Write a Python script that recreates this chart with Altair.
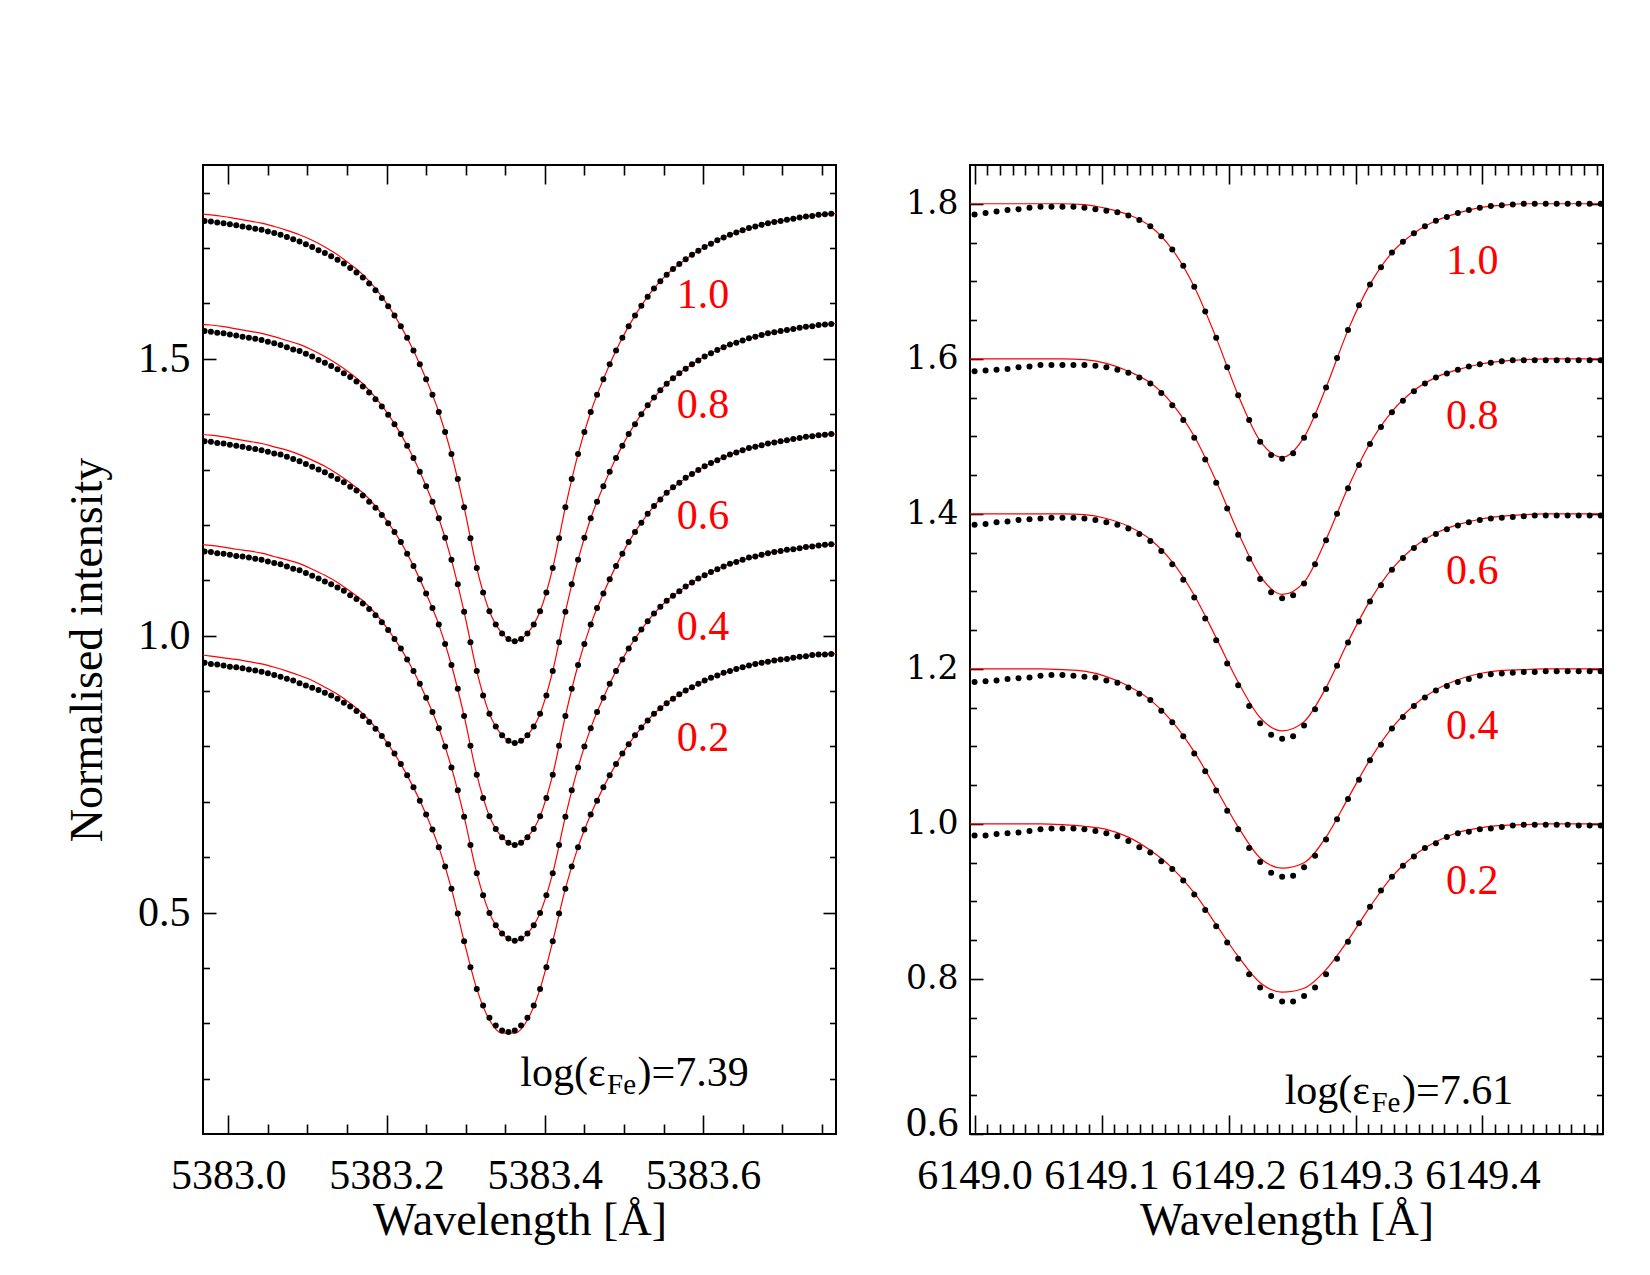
import altair as alt
import numpy as np
import pandas as pd

SERIF = "Liberation Serif"
WIDE_SERIF = "DejaVu Serif"
PANEL_W, PANEL_H = 633, 969

MU = ["1.0", "0.8", "0.6", "0.4", "0.2"]

# ---------------------------------------------------------------------------
# Fe I 5383 A.  Observed centre-to-limb profiles (dots), 8 mA sampling,
# each profile shifted up by (mu - 0.2).
# ---------------------------------------------------------------------------
wl_obs_5383 = np.round(5382.970 + 0.008 * np.arange(100), 3)

obs_5383_mu10 = [
    1.749, 1.748, 1.746, 1.745, 1.743, 1.741, 1.739, 1.737, 1.735, 1.733,
    1.730, 1.727, 1.724, 1.720, 1.716, 1.712, 1.707, 1.702, 1.696, 1.691,
    1.685, 1.679, 1.672, 1.664, 1.656, 1.647, 1.636, 1.624, 1.610, 1.595,
    1.578, 1.559, 1.538, 1.515, 1.490, 1.463, 1.435, 1.404, 1.368, 1.328,
    1.283, 1.232, 1.176, 1.122, 1.078, 1.044, 1.020, 1.004, 0.994, 0.990,
    0.994, 1.004, 1.020, 1.044, 1.078, 1.122, 1.176, 1.232, 1.283, 1.328,
    1.368, 1.404, 1.435, 1.463, 1.490, 1.515, 1.538, 1.559, 1.578, 1.596,
    1.612, 1.627, 1.640, 1.652, 1.662, 1.671, 1.680, 1.688, 1.695, 1.702,
    1.708, 1.714, 1.719, 1.724, 1.728, 1.732, 1.736, 1.739, 1.742, 1.745,
    1.747, 1.749, 1.751, 1.753, 1.755, 1.757, 1.758, 1.760, 1.761, 1.762,
]
obs_5383_mu08 = [
    1.550, 1.549, 1.547, 1.546, 1.544, 1.542, 1.540, 1.538, 1.536, 1.534,
    1.531, 1.528, 1.525, 1.521, 1.517, 1.514, 1.509, 1.504, 1.498, 1.493,
    1.487, 1.481, 1.474, 1.467, 1.459, 1.450, 1.439, 1.427, 1.414, 1.399,
    1.382, 1.364, 1.343, 1.321, 1.296, 1.270, 1.242, 1.212, 1.177, 1.137,
    1.093, 1.043, 0.988, 0.936, 0.892, 0.859, 0.836, 0.820, 0.810, 0.806,
    0.810, 0.820, 0.836, 0.859, 0.892, 0.936, 0.988, 1.043, 1.093, 1.137,
    1.177, 1.212, 1.242, 1.270, 1.296, 1.321, 1.343, 1.364, 1.382, 1.400,
    1.416, 1.430, 1.443, 1.455, 1.465, 1.474, 1.482, 1.490, 1.497, 1.504,
    1.510, 1.516, 1.521, 1.526, 1.529, 1.533, 1.537, 1.540, 1.543, 1.546,
    1.548, 1.550, 1.552, 1.554, 1.556, 1.558, 1.559, 1.561, 1.562, 1.563,
]
obs_5383_mu06 = [
    1.351, 1.350, 1.348, 1.347, 1.345, 1.343, 1.341, 1.339, 1.337, 1.335,
    1.332, 1.329, 1.327, 1.323, 1.319, 1.315, 1.310, 1.305, 1.300, 1.295,
    1.289, 1.283, 1.277, 1.269, 1.262, 1.253, 1.242, 1.231, 1.218, 1.203,
    1.187, 1.169, 1.148, 1.126, 1.102, 1.076, 1.050, 1.020, 0.985, 0.947,
    0.904, 0.855, 0.801, 0.749, 0.707, 0.674, 0.651, 0.636, 0.626, 0.622,
    0.626, 0.636, 0.651, 0.674, 0.707, 0.749, 0.801, 0.855, 0.904, 0.947,
    0.985, 1.020, 1.050, 1.076, 1.102, 1.126, 1.148, 1.169, 1.187, 1.204,
    1.220, 1.234, 1.246, 1.258, 1.268, 1.276, 1.285, 1.292, 1.299, 1.306,
    1.312, 1.317, 1.322, 1.327, 1.331, 1.335, 1.339, 1.341, 1.344, 1.347,
    1.349, 1.351, 1.353, 1.355, 1.357, 1.359, 1.360, 1.362, 1.363, 1.364,
]
obs_5383_mu04 = [
    1.152, 1.151, 1.149, 1.148, 1.146, 1.144, 1.143, 1.141, 1.139, 1.137,
    1.134, 1.131, 1.129, 1.125, 1.121, 1.118, 1.113, 1.108, 1.103, 1.098,
    1.093, 1.087, 1.081, 1.073, 1.066, 1.058, 1.048, 1.037, 1.024, 1.010,
    0.994, 0.977, 0.957, 0.936, 0.913, 0.888, 0.862, 0.833, 0.800, 0.762,
    0.721, 0.673, 0.622, 0.571, 0.531, 0.499, 0.477, 0.462, 0.453, 0.449,
    0.453, 0.462, 0.477, 0.499, 0.531, 0.571, 0.622, 0.673, 0.721, 0.762,
    0.800, 0.833, 0.862, 0.888, 0.913, 0.936, 0.957, 0.977, 0.994, 1.011,
    1.026, 1.040, 1.052, 1.063, 1.072, 1.080, 1.089, 1.096, 1.103, 1.109,
    1.115, 1.120, 1.125, 1.130, 1.133, 1.137, 1.141, 1.143, 1.146, 1.149,
    1.151, 1.153, 1.155, 1.156, 1.158, 1.160, 1.161, 1.163, 1.164, 1.165,
]
obs_5383_mu02 = [
    0.951, 0.949, 0.948, 0.946, 0.944, 0.943, 0.941, 0.939, 0.937, 0.935,
    0.932, 0.929, 0.926, 0.922, 0.919, 0.914, 0.910, 0.906, 0.902, 0.897,
    0.892, 0.886, 0.879, 0.872, 0.864, 0.855, 0.844, 0.832, 0.819, 0.804,
    0.787, 0.768, 0.748, 0.726, 0.702, 0.677, 0.650, 0.618, 0.583, 0.543,
    0.498, 0.448, 0.401, 0.362, 0.332, 0.310, 0.296, 0.287, 0.284, 0.287,
    0.296, 0.310, 0.332, 0.362, 0.401, 0.448, 0.498, 0.543, 0.583, 0.618,
    0.650, 0.677, 0.702, 0.726, 0.748, 0.768, 0.787, 0.804, 0.820, 0.834,
    0.847, 0.859, 0.869, 0.878, 0.886, 0.894, 0.901, 0.907, 0.913, 0.919,
    0.924, 0.928, 0.933, 0.936, 0.940, 0.943, 0.946, 0.949, 0.951, 0.953,
    0.955, 0.957, 0.958, 0.960, 0.962, 0.963, 0.965, 0.966, 0.966, 0.967,
]

# Synthetic best-fit profiles (red), 16 mA sampling
wl_fit_5383 = np.round(5382.962 + 0.016 * np.arange(52), 3)

fit_5383_mu10 = [
    1.762, 1.760, 1.757, 1.753, 1.749, 1.745, 1.739, 1.732, 1.724, 1.714,
    1.702, 1.688, 1.671, 1.652, 1.627, 1.596, 1.559, 1.515, 1.463, 1.404,
    1.328, 1.232, 1.122, 1.044, 1.004, 0.990, 1.004, 1.044, 1.122, 1.232,
    1.328, 1.404, 1.463, 1.515, 1.559, 1.596, 1.627, 1.652, 1.671, 1.688,
    1.702, 1.714, 1.724, 1.732, 1.739, 1.745, 1.749, 1.753, 1.757, 1.760,
    1.762, 1.764,
]
fit_5383_mu08 = [
    1.563, 1.561, 1.558, 1.554, 1.550, 1.546, 1.540, 1.533, 1.526, 1.516,
    1.504, 1.490, 1.474, 1.455, 1.430, 1.400, 1.364, 1.321, 1.270, 1.212,
    1.137, 1.043, 0.936, 0.859, 0.820, 0.806, 0.820, 0.859, 0.936, 1.043,
    1.137, 1.212, 1.270, 1.321, 1.364, 1.400, 1.430, 1.455, 1.474, 1.490,
    1.504, 1.516, 1.526, 1.533, 1.540, 1.546, 1.550, 1.554, 1.558, 1.561,
    1.563, 1.565,
]
fit_5383_mu06 = [
    1.364, 1.362, 1.359, 1.355, 1.351, 1.347, 1.341, 1.335, 1.327, 1.317,
    1.306, 1.292, 1.276, 1.258, 1.234, 1.204, 1.169, 1.126, 1.076, 1.020,
    0.947, 0.855, 0.749, 0.674, 0.636, 0.622, 0.636, 0.674, 0.749, 0.855,
    0.947, 1.020, 1.076, 1.126, 1.169, 1.204, 1.234, 1.258, 1.276, 1.292,
    1.306, 1.317, 1.327, 1.335, 1.341, 1.347, 1.351, 1.355, 1.359, 1.362,
    1.364, 1.365,
]
fit_5383_mu04 = [
    1.165, 1.163, 1.160, 1.156, 1.153, 1.149, 1.143, 1.137, 1.130, 1.120,
    1.109, 1.096, 1.080, 1.063, 1.040, 1.011, 0.977, 0.936, 0.888, 0.833,
    0.762, 0.673, 0.571, 0.499, 0.462, 0.449, 0.462, 0.499, 0.571, 0.673,
    0.762, 0.833, 0.888, 0.936, 0.977, 1.011, 1.040, 1.063, 1.080, 1.096,
    1.109, 1.120, 1.130, 1.137, 1.143, 1.149, 1.153, 1.156, 1.160, 1.163,
    1.165, 1.166,
]
fit_5383_mu02 = [
    0.966, 0.963, 0.960, 0.957, 0.953, 0.949, 0.943, 0.936, 0.928, 0.919,
    0.907, 0.894, 0.878, 0.859, 0.834, 0.804, 0.768, 0.726, 0.677, 0.618,
    0.543, 0.448, 0.362, 0.306, 0.282, 0.282, 0.306, 0.362, 0.448, 0.543,
    0.618, 0.677, 0.726, 0.768, 0.804, 0.834, 0.859, 0.878, 0.894, 0.907,
    0.919, 0.928, 0.936, 0.943, 0.949, 0.953, 0.957, 0.960, 0.963, 0.966,
    0.967, 0.968,
]

# ---------------------------------------------------------------------------
# Fe I 6149 A.  Observed profiles, 8.65 mA sampling, shifted by (mu - 0.2).
# ---------------------------------------------------------------------------
wl_obs_6149 = np.round(6149.000 + 0.00865 * np.arange(58), 5)

obs_6149_mu10 = [
    1.786, 1.788, 1.790, 1.792, 1.793, 1.795, 1.796, 1.796, 1.796, 1.796,
    1.795, 1.793, 1.791, 1.789, 1.785, 1.779, 1.771, 1.758, 1.741, 1.720,
    1.693, 1.661, 1.627, 1.589, 1.553, 1.521, 1.493, 1.476, 1.471, 1.478,
    1.498, 1.527, 1.563, 1.601, 1.637, 1.669, 1.696, 1.718, 1.737, 1.751,
    1.762, 1.771, 1.778, 1.783, 1.788, 1.792, 1.795, 1.797, 1.798, 1.799,
    1.800, 1.800, 1.800, 1.800, 1.800, 1.800, 1.800, 1.800,
]
obs_6149_mu08 = [
    1.584, 1.585, 1.586, 1.587, 1.589, 1.590, 1.592, 1.592, 1.592, 1.592,
    1.592, 1.591, 1.589, 1.586, 1.582, 1.576, 1.568, 1.556, 1.540, 1.521,
    1.498, 1.470, 1.440, 1.407, 1.373, 1.342, 1.316, 1.299, 1.291, 1.295,
    1.310, 1.335, 1.366, 1.400, 1.433, 1.463, 1.490, 1.512, 1.531, 1.546,
    1.558, 1.568, 1.576, 1.581, 1.586, 1.590, 1.593, 1.595, 1.597, 1.598,
    1.598, 1.598, 1.598, 1.598, 1.598, 1.598, 1.598, 1.598,
]
obs_6149_mu06 = [
    1.386, 1.387, 1.389, 1.390, 1.392, 1.393, 1.394, 1.395, 1.395, 1.395,
    1.394, 1.392, 1.389, 1.386, 1.381, 1.374, 1.365, 1.352, 1.335, 1.315,
    1.292, 1.265, 1.237, 1.207, 1.179, 1.152, 1.130, 1.115, 1.110, 1.113,
    1.127, 1.148, 1.174, 1.204, 1.234, 1.261, 1.287, 1.308, 1.328, 1.343,
    1.356, 1.366, 1.374, 1.380, 1.385, 1.389, 1.392, 1.394, 1.395, 1.396,
    1.397, 1.398, 1.398, 1.398, 1.398, 1.398, 1.398, 1.398,
]
obs_6149_mu04 = [
    1.183, 1.184, 1.185, 1.187, 1.188, 1.189, 1.191, 1.192, 1.192, 1.191,
    1.190, 1.189, 1.185, 1.182, 1.176, 1.168, 1.160, 1.146, 1.131, 1.113,
    1.091, 1.068, 1.043, 1.017, 0.993, 0.969, 0.951, 0.937, 0.932, 0.933,
    0.944, 0.959, 0.980, 1.006, 1.032, 1.057, 1.082, 1.102, 1.123, 1.138,
    1.152, 1.163, 1.172, 1.178, 1.183, 1.187, 1.191, 1.193, 1.194, 1.195,
    1.196, 1.196, 1.197, 1.197, 1.197, 1.197, 1.197, 1.197,
]
obs_6149_mu02 = [
    0.985, 0.985, 0.987, 0.988, 0.989, 0.991, 0.993, 0.994, 0.994, 0.994,
    0.993, 0.991, 0.988, 0.984, 0.978, 0.970, 0.963, 0.952, 0.942, 0.927,
    0.909, 0.889, 0.868, 0.847, 0.826, 0.806, 0.789, 0.778, 0.771, 0.771,
    0.778, 0.789, 0.806, 0.826, 0.848, 0.872, 0.893, 0.914, 0.932, 0.946,
    0.958, 0.969, 0.975, 0.983, 0.988, 0.990, 0.993, 0.994, 0.996, 0.998,
    0.999, 0.999, 0.999, 0.999, 0.999, 0.998, 0.998, 0.998,
]

wl_fit_6149 = np.round(6148.9827 + 0.0173 * np.arange(31), 5)

fit_6149_mu10 = [
    1.800, 1.800, 1.800, 1.800, 1.800, 1.800, 1.799, 1.794, 1.786, 1.771,
    1.741, 1.693, 1.627, 1.553, 1.494, 1.473, 1.499, 1.563, 1.637, 1.696,
    1.737, 1.762, 1.778, 1.788, 1.795, 1.798, 1.800, 1.800, 1.800, 1.800,
    1.800,
]
fit_6149_mu08 = [
    1.600, 1.600, 1.600, 1.600, 1.600, 1.600, 1.599, 1.594, 1.584, 1.569,
    1.542, 1.500, 1.442, 1.376, 1.320, 1.296, 1.312, 1.367, 1.434, 1.491,
    1.532, 1.559, 1.576, 1.586, 1.593, 1.597, 1.599, 1.600, 1.600, 1.600,
    1.600,
]
fit_6149_mu06 = [
    1.400, 1.400, 1.400, 1.400, 1.400, 1.400, 1.399, 1.394, 1.384, 1.367,
    1.338, 1.295, 1.240, 1.183, 1.137, 1.120, 1.132, 1.176, 1.235, 1.288,
    1.329, 1.357, 1.375, 1.386, 1.393, 1.397, 1.399, 1.400, 1.400, 1.400,
    1.400,
]
fit_6149_mu04 = [
    1.200, 1.200, 1.200, 1.200, 1.200, 1.199, 1.197, 1.190, 1.178, 1.160,
    1.132, 1.093, 1.045, 0.996, 0.956, 0.943, 0.950, 0.983, 1.033, 1.083,
    1.124, 1.153, 1.173, 1.186, 1.194, 1.198, 1.199, 1.200, 1.200, 1.200,
    1.200,
]
fit_6149_mu02 = [
    1.000, 1.000, 1.000, 1.000, 1.000, 0.999, 0.997, 0.993, 0.983, 0.966,
    0.943, 0.911, 0.870, 0.829, 0.795, 0.783, 0.788, 0.812, 0.850, 0.893,
    0.932, 0.959, 0.977, 0.989, 0.995, 0.998, 0.999, 1.000, 1.000, 1.000,
    1.000,
]

# Where the mu labels and the abundance notes sit (data units)
mu_label_y_5383 = [1.616, 1.416, 1.216, 1.016, 0.816]
mu_label_y_6149 = [1.7265, 1.5265, 1.3265, 1.1265, 0.9265]


def long_table(wl, series):
    frames = [pd.DataFrame({"wl": wl, "I": vals, "mu": mu})
              for mu, vals in zip(MU, series)]
    return pd.concat(frames, ignore_index=True)


def tick_axis(orient, values, size, offset):
    """Inward-pointing tick marks: the axis is moved across the plot."""
    return alt.Axis(orient=orient, values=values, tickSize=size, offset=offset,
                    labels=False, domain=False, grid=False, ticks=True,
                    tickColor="black", tickWidth=1.6, title=None)


def panel(obs, fit, xdom, ydom, x_major, x_minor, y_major, y_minor,
          mu_x, mu_y, note_x, note_y, note_value, x_axis, y_axis):
    xs = alt.Scale(domain=xdom, nice=False, zero=False)
    ys = alt.Scale(domain=ydom, nice=False, zero=False)

    def xy(ax=None, ay=None):
        return dict(x=alt.X("wl:Q", scale=xs, axis=ax),
                    y=alt.Y("I:Q", scale=ys, axis=ay))

    centre = pd.DataFrame({"wl": [sum(xdom) / 2], "I": [sum(ydom) / 2]})

    def carrier(ax, ay):
        return alt.Chart(centre).mark_point(opacity=0, size=1).encode(**xy(ax, ay))

    fit_layer = alt.Chart(fit).mark_line(
        color="#ff0000", strokeWidth=1.2, clip=True, interpolate="monotone"
    ).encode(detail="mu:N", **xy())

    obs_layer = alt.Chart(obs).mark_circle(
        size=36, color="black", opacity=1, clip=True
    ).encode(**xy())

    mu_df = pd.DataFrame({"wl": [mu_x] * len(MU), "I": mu_y, "txt": MU})
    mu_layer = alt.Chart(mu_df).mark_text(
        color="#ff0000", font=SERIF, fontSize=42, align="center", baseline="middle"
    ).encode(text="txt:N", **xy())

    note_df = pd.DataFrame({"wl": [note_x], "I": [note_y],
                            "a": ["log(\u03b5"], "b": ["Fe"], "c": [")=" + note_value]})
    note_a = alt.Chart(note_df).mark_text(
        font=SERIF, fontSize=42, color="black", align="right",
        baseline="alphabetic", dx=-16).encode(text="a:N", **xy())
    note_b = alt.Chart(note_df).mark_text(
        font=SERIF, fontSize=29, color="black", align="center",
        baseline="alphabetic", dy=8).encode(text="b:N", **xy())
    note_c = alt.Chart(note_df).mark_text(
        font=SERIF, fontSize=42, color="black", align="left",
        baseline="alphabetic", dx=16).encode(text="c:N", **xy())

    layers = [
        fit_layer, obs_layer, mu_layer, note_a, note_b, note_c,
        carrier(x_axis, y_axis),
        carrier(tick_axis("top", x_major, 19, -PANEL_H),
                tick_axis("right", y_major, 13, -PANEL_W)),
        carrier(tick_axis("top", x_minor, 10, -PANEL_H),
                tick_axis("right", y_minor, 6.5, -PANEL_W)),
        carrier(tick_axis("bottom", x_major, 19, -PANEL_H),
                tick_axis("left", y_major, 13, -PANEL_W)),
        carrier(tick_axis("bottom", x_minor, 10, -PANEL_H),
                tick_axis("left", y_minor, 6.5, -PANEL_W)),
    ]
    return alt.layer(*layers).resolve_axis(
        x="independent", y="independent"
    ).properties(width=PANEL_W, height=PANEL_H)


def x_label_axis(values):
    return alt.Axis(orient="bottom", values=values, format=".1f", ticks=False,
                    tickSize=0, domain=False, grid=False, labelOverlap=False,
                    labelFont=SERIF, labelFontSize=42, labelColor="black",
                    labelPadding=21, title="Wavelength [\u00c5]", titleFont=SERIF,
                    titleFontSize=46, titleFontWeight="normal", titleColor="black",
                    titlePadding=2)


# ---- left panel: Fe I 5383 ----
x_major_5383 = [5383.0, 5383.2, 5383.4, 5383.6]
x_minor_5383 = [5383.05, 5383.10, 5383.15, 5383.25, 5383.30, 5383.35,
                5383.45, 5383.50, 5383.55, 5383.65, 5383.70, 5383.75]
y_major_5383 = [0.5, 1.0, 1.5]
y_minor_5383 = [0.2, 0.3, 0.4, 0.6, 0.7, 0.8, 0.9, 1.1, 1.2, 1.3, 1.4,
                1.6, 1.7, 1.8]

left = panel(
    long_table(wl_obs_5383, [obs_5383_mu10, obs_5383_mu08, obs_5383_mu06,
                             obs_5383_mu04, obs_5383_mu02]),
    long_table(wl_fit_5383, [fit_5383_mu10, fit_5383_mu08, fit_5383_mu06,
                             fit_5383_mu04, fit_5383_mu02]),
    [5382.968, 5383.768], [0.1, 1.85],
    x_major_5383, x_minor_5383, y_major_5383, y_minor_5383,
    5383.6, mu_label_y_5383, 5383.497, 0.187, "7.39",
    x_label_axis(x_major_5383),
    alt.Axis(orient="left", values=y_major_5383, format=".1f", ticks=False,
             tickSize=0, domain=False, grid=False, labelOverlap=False,
             labelFont=SERIF, labelFontSize=42, labelColor="black",
             labelPadding=13, title="Normalised intensity", titleFont=SERIF,
             titleFontSize=46, titleFontWeight="normal", titleColor="black",
             titlePadding=26),
)

# ---- right panel: Fe I 6149 ----
x_major_6149 = [6149.0, 6149.1, 6149.2, 6149.3, 6149.4]
x_minor_6149 = [round(6149.0 + 0.01 * i, 2) for i in range(50) if i % 10 != 0]
y_major_6149 = [0.6, 0.8, 1.0, 1.2, 1.4, 1.6, 1.8]
y_minor_6149 = [0.65, 0.7, 0.75, 0.85, 0.9, 0.95, 1.05, 1.1, 1.15, 1.25, 1.3,
                1.35, 1.45, 1.5, 1.55, 1.65, 1.7, 1.75]

right = panel(
    long_table(wl_obs_6149, [obs_6149_mu10, obs_6149_mu08, obs_6149_mu06,
                             obs_6149_mu04, obs_6149_mu02]),
    long_table(wl_fit_6149, [fit_6149_mu10, fit_6149_mu08, fit_6149_mu06,
                             fit_6149_mu04, fit_6149_mu02]),
    [6148.9964, 6149.4949], [0.6, 1.85],
    x_major_6149, x_minor_6149, y_major_6149, y_minor_6149,
    6149.392, mu_label_y_6149, 6149.324, 0.639, "7.61",
    x_label_axis(x_major_6149),
    alt.Axis(orient="left", values=y_major_6149, format=".1f", ticks=False,
             tickSize=0, domain=False, grid=False, labelOverlap=False,
             labelFont={"condition": {"test": "datum.value < 0.7",
                                      "value": SERIF},
                        "value": WIDE_SERIF},
             labelFontSize={"condition": {"test": "datum.value < 0.7",
                                          "value": 42},
                            "value": 33},
             labelColor="black", labelPadding=12, labelFlush=True,
             labelFlushOffset=10, title=None),
)

chart = alt.hconcat(left, right, spacing=134, bounds="flush").properties(
    padding={"left": 63, "top": 163, "right": 30, "bottom": 10},
    background="white",
).configure_view(stroke="black", strokeWidth=2)

chart.save("out.html", embed_options={"renderer": "svg", "actions": False})
